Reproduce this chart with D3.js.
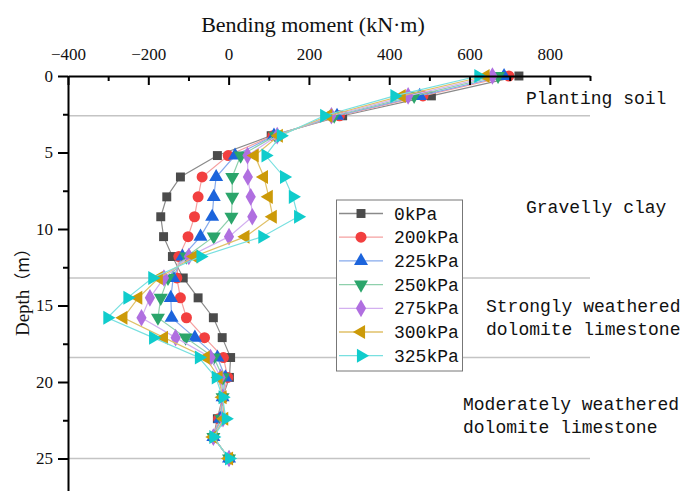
<!DOCTYPE html>
<html>
<head>
<meta charset="utf-8">
<script src="https://cdn.jsdelivr.net/npm/d3@7/dist/d3.min.js"></script>
<style>
  html, body { margin: 0; padding: 0; background: #fff; }
  svg { display: block; }
</style>
</head>
<body>
<svg id="chart" width="686" height="491"></svg>
<script>
// Measurement depths along the pile (m)
const depths = [0, 1.3, 2.6, 3.9, 5.2, 6.6, 7.9, 9.2, 10.5, 11.8, 13.2, 14.5, 15.8, 17.1, 18.4, 19.7, 21.0, 22.4, 23.6, 25.0];

// Bending moment (kN·m) at each depth, one array per surcharge load
const m0kPa   = [723, 505, 284, 106, -28, -120, -154, -169, -162, -140, -113, -76, -38, -16, 5, 2, -15, -28, -38, 1];
const m200kPa = [698, 484, 276, 110, -1, -66, -76, -85, -101, -124, -129, -120, -105, -60, -13, -2, -15, -25, -38, 1];
const m225kPa = [686, 476, 270, 113, 16, -31, -37, -41, -70, -115, -138, -144, -142, -84, -28, -8, -15, -21, -38, 1];
const m250kPa = [671, 462, 263, 117, 30, 9, 9, 7, -37, -105, -151, -169, -176, -107, -37, -14, -15, -18, -38, 1];
const m275kPa = [657, 447, 256, 121, 47, 48, 55, 59, 1, -99, -161, -196, -217, -132, -45, -20, -15, -14, -38, 1];
const m300kPa = [640, 431, 248, 125, 65, 88, 100, 110, 42, -86, -174, -225, -262, -161, -57, -25, -15, -11, -38, 1];
const m325kPa = [622, 413, 238, 130, 92, 138, 160, 173, 84, -70, -190, -252, -302, -188, -74, -32, -15, -7, -38, 1];

const seriesNames = ["0kPa", "200kPa", "225kPa", "250kPa", "275kPa", "300kPa", "325kPa"];
const seriesValues = [m0kPa, m200kPa, m225kPa, m250kPa, m275kPa, m300kPa, m325kPa];

// Soil layer boundaries (m) and layer names
const layerBounds = [2.6, 13.2, 18.4, 25.0];
const layerLabels = [
  { lines: ["Planting soil"], x: 526, y: 104 },
  { lines: ["Gravelly clay"], x: 526, y: 213 },
  { lines: ["Strongly weathered", "dolomite limestone"], x: 486, y: 312 },
  { lines: ["Moderately weathered", "dolomite limestone"], x: 463, y: 410 }
];

const xMajorTicks = [-400, -200, 0, 200, 400, 600, 800];
const xMinorTicks = [-300, -100, 100, 300, 500, 700, 900];
const yMajorTicks = [0, 5, 10, 15, 20, 25];
const yMinorTicks = [2.5, 7.5, 12.5, 17.5, 22.5, 27.5];

// Marker styling per series
const styles = [
  { fill: "#4b4b4b", line: "#8a8a8a", type: d3.symbolSquare,   size: 80, rot: 0 },
  { fill: "#f23f3f", line: "#f5a0a0", type: d3.symbolCircle,   size: 95, rot: 0 },
  { fill: "#1c64dc", line: "#86aaec", type: d3.symbolTriangle, size: 85, rot: 0 },
  { fill: "#2ba56b", line: "#8ed0ac", type: d3.symbolTriangle, size: 85, rot: 180 },
  { fill: "#b06fe0", line: "#d3b0f0", type: d3.symbolDiamond,  size: 90, rot: 0 },
  { fill: "#cc9a08", line: "#e0c168", type: d3.symbolTriangle, size: 85, rot: -90 },
  { fill: "#10cccc", line: "#78e0e0", type: d3.symbolTriangle, size: 85, rot: 90 }
];

const svg = d3.select("#chart");
const plotLeft = 68, plotRight = 590, plotTop = 76;

const x = d3.scaleLinear().domain([-400, 900]).range([plotLeft, plotRight]);
const y = d3.scaleLinear().domain([0, 28]).range([plotTop, plotTop + 28 * 15.3]);

const serif = "'Liberation Serif', 'Times New Roman', serif";
const mono = "'Liberation Mono', 'Courier New', monospace";

// Layer boundary lines
svg.append("g").selectAll("line").data(layerBounds).join("line")
  .attr("x1", plotLeft).attr("x2", plotRight)
  .attr("y1", d => y(d)).attr("y2", d => y(d))
  .attr("stroke", "#c4c4c4").attr("stroke-width", 1.5);

// Series lines and markers
const lineGen = d3.line().x(d => x(d[0])).y(d => y(d[1]));
seriesValues.forEach((vals, i) => {
  const st = styles[i];
  const pts = vals.map((v, k) => [v, depths[k]]);
  const g = svg.append("g");
  g.append("path").attr("d", lineGen(pts))
    .attr("fill", "none").attr("stroke", st.line).attr("stroke-width", 1.2);
  const sym = d3.symbol().type(st.type).size(st.size);
  g.selectAll("path.m").data(pts).join("path").attr("class", "m")
    .attr("d", sym)
    .attr("transform", d => `translate(${x(d[0])},${y(d[1])}) rotate(${st.rot})`)
    .attr("fill", st.fill);
});

// Top (x) axis
const xAxis = svg.append("g").attr("transform", `translate(0,${plotTop})`)
  .call(d3.axisTop(x).tickValues(xMajorTicks).tickSize(-9).tickSizeOuter(0).tickPadding(16));
xAxis.select(".domain").attr("stroke", "#000").attr("stroke-width", 2);
xAxis.selectAll(".tick line").attr("stroke", "#000").attr("stroke-width", 2);
xAxis.selectAll(".tick text").attr("font-family", serif).attr("font-size", 17).attr("fill", "#111");
svg.append("g").attr("transform", `translate(0,${plotTop})`)
  .call(d3.axisTop(x).tickValues(xMinorTicks).tickSize(-5).tickSizeOuter(0).tickFormat(""))
  .call(g => g.select(".domain").remove())
  .selectAll(".tick line").attr("stroke", "#000").attr("stroke-width", 2);

// Left (y) axis
const yAxis = svg.append("g").attr("transform", `translate(${plotLeft},0)`)
  .call(d3.axisLeft(y).tickValues(yMajorTicks).tickSize(10).tickSizeOuter(0).tickPadding(5));
yAxis.select(".domain").attr("stroke", "#000").attr("stroke-width", 2);
yAxis.selectAll(".tick line").attr("stroke", "#000").attr("stroke-width", 2);
yAxis.selectAll(".tick text").attr("font-family", serif).attr("font-size", 17).attr("fill", "#111");
svg.append("g").attr("transform", `translate(${plotLeft},0)`)
  .call(d3.axisLeft(y).tickValues(yMinorTicks).tickSize(5).tickSizeOuter(0).tickFormat(""))
  .call(g => g.select(".domain").remove())
  .selectAll(".tick line").attr("stroke", "#000").attr("stroke-width", 2);

// Axis titles
svg.append("text").attr("x", 313).attr("y", 32).attr("text-anchor", "middle")
  .attr("font-family", serif).attr("font-size", 22).attr("fill", "#111")
  .text("Bending moment (kN·m)");
const yTitle = svg.append("text").attr("transform", "translate(29,288) rotate(-90)")
  .attr("text-anchor", "middle").attr("font-family", serif).attr("font-size", 19).attr("fill", "#111");
yTitle.append("tspan").text("Depth");
yTitle.append("tspan").attr("font-family", "'Noto Sans CJK SC', sans-serif").attr("font-size", 17).text("（m）");

// Layer names
layerLabels.forEach(l => {
  const t = svg.append("text").attr("font-family", mono).attr("font-size", 18).attr("fill", "#111");
  l.lines.forEach((s, k) => t.append("tspan").attr("x", l.x).attr("y", l.y + k * 23).text(s));
});

// Legend
const lg = svg.append("g");
lg.append("rect").attr("x", 336.5).attr("y", 200).attr("width", 126).attr("height", 171)
  .attr("fill", "#fff").attr("stroke", "#777").attr("stroke-width", 1);
seriesNames.forEach((name, i) => {
  const st = styles[i];
  const cy = 213.5 + i * 23.7;
  lg.append("line").attr("x1", 339).attr("x2", 383).attr("y1", cy).attr("y2", cy)
    .attr("stroke", st.line).attr("stroke-width", 1.3);
  lg.append("path").attr("d", d3.symbol().type(st.type).size(st.size)())
    .attr("transform", `translate(361,${cy}) rotate(${st.rot})`).attr("fill", st.fill);
  lg.append("text").attr("x", 394).attr("y", cy + 6).attr("font-family", mono)
    .attr("font-size", 18).attr("fill", "#111").text(name);
});
</script>
</body>
</html>
